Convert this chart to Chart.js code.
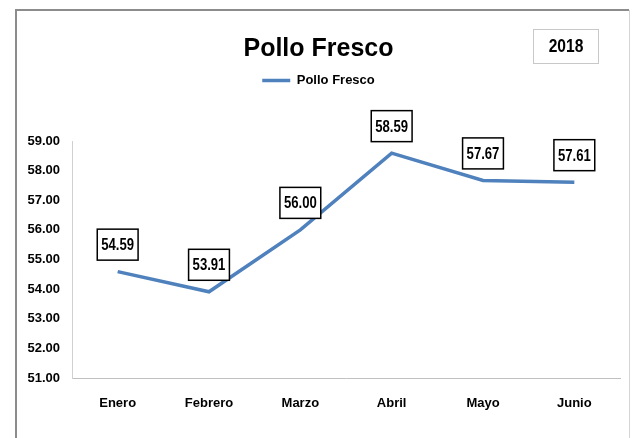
<!DOCTYPE html>
<html>
<head>
<meta charset="utf-8">
<title>Pollo Fresco</title>
<script src="https://cdn.jsdelivr.net/npm/chart.js@4.4.1/dist/chart.umd.min.js"></script>
<style>
    html, body { margin: 0; padding: 0; background: #fff; }
    canvas { display: block; }
</style>
</head>
<body>
<canvas id="polloChart" width="632" height="438"></canvas>
<script>
// Data
const months = ['Enero', 'Febrero', 'Marzo', 'Abril', 'Mayo', 'Junio'];
const polloFresco = [54.59, 53.91, 56.00, 58.59, 57.67, 57.61];
const seriesName = 'Pollo Fresco';
const yearLabel = '2018';
const yTicks = [51, 52, 53, 54, 55, 56, 57, 58, 59];

const FONT = "'Liberation Sans', Arial, sans-serif";
const LINE_COLOR = '#4f81bd';
const NARROW = 0.82; // squeeze for hand drawn text, the original font is a narrow one

// draw text horizontally squeezed around (x, y)
function narrowText(ctx, text, x, y) {
    ctx.save();
    ctx.translate(x, y);
    ctx.scale(NARROW, 1);
    ctx.fillText(text, 0, 0);
    ctx.restore();
}

// Outer frame of the chart object
const frame = {
    id: 'frame',
    beforeDraw(chart) {
        const ctx = chart.ctx;
        ctx.save();
        ctx.fillStyle = '#fff';
        ctx.fillRect(0, 0, chart.width, chart.height);
        ctx.strokeStyle = '#8c8c8c';
        ctx.lineWidth = 2;
        ctx.beginPath();
        ctx.moveTo(16, chart.height);
        ctx.lineTo(16, 10);
        ctx.lineTo(629, 10);
        ctx.stroke();
        ctx.strokeStyle = '#d4d4d4';
        ctx.lineWidth = 1;
        ctx.beginPath();
        ctx.moveTo(629.5, 10);
        ctx.lineTo(629.5, chart.height);
        ctx.stroke();
        ctx.restore();
    },
};

// Push the plot area down below the legend
const legendGap = {
    id: 'legendGap',
    beforeInit(chart) {
        const fit = chart.legend.fit;
        chart.legend.fit = function () {
            fit.bind(chart.legend)();
            this.height += 44;
        };
    },
};

// Boxed value labels above each point
const valueLabels = {
    id: 'valueLabels',
    afterDatasetsDraw(chart) {
        const ctx = chart.ctx;
        const meta = chart.getDatasetMeta(0);
        ctx.save();
        ctx.font = `bold 16px ${FONT}`;
        ctx.textAlign = 'center';
        ctx.textBaseline = 'middle';
        meta.data.forEach((pt, i) => {
            const text = polloFresco[i].toFixed(2);
            const w = ctx.measureText(text).width * NARROW + 8;
            const h = 31;
            const cx = pt.x;
            const cy = pt.y - 27;
            ctx.fillStyle = '#fff';
            ctx.fillRect(cx - w / 2, cy - h / 2, w, h);
            ctx.strokeStyle = '#000';
            ctx.lineWidth = 1.5;
            ctx.strokeRect(cx - w / 2, cy - h / 2, w, h);
            ctx.fillStyle = '#000';
            narrowText(ctx, text, cx, cy + 1);
        });
        ctx.restore();
    },
};

// Year box in the top right corner
const yearBox = {
    id: 'yearBox',
    afterDraw(chart) {
        const ctx = chart.ctx;
        ctx.save();
        ctx.strokeStyle = '#c8c8c8';
        ctx.lineWidth = 1;
        ctx.strokeRect(533.5, 29.5, 65, 34);
        ctx.font = `bold 19px ${FONT}`;
        ctx.fillStyle = '#000';
        ctx.textAlign = 'center';
        ctx.textBaseline = 'middle';
        narrowText(ctx, yearLabel, 566, 47);
        ctx.restore();
    },
};

const ctx = document.getElementById('polloChart').getContext('2d');

new Chart(ctx, {
    type: 'line',
    data: {
        labels: months,
        datasets: [
            {
                label: seriesName,
                data: polloFresco,
                borderColor: LINE_COLOR,
                backgroundColor: LINE_COLOR,
                borderWidth: 3.5,
                pointRadius: 0,
                pointStyle: 'line',
                tension: 0,
                fill: false,
            },
        ],
    },
    options: {
        responsive: false,
        animation: false,
        layout: {
            padding: { top: 12, left: 17, right: 12, bottom: 20 },
        },
        plugins: {
            title: {
                display: true,
                text: seriesName,
                color: '#000',
                font: { family: FONT, size: 25, weight: 'bold', lineHeight: 1.2 },
                padding: { top: 22, bottom: 0 },
            },
            legend: {
                position: 'top',
                labels: {
                    color: '#000',
                    font: { family: FONT, size: 13, weight: 'bold' },
                    usePointStyle: true,
                    pointStyle: 'line',
                    pointStyleWidth: 28,
                    padding: 10,
                },
            },
            tooltip: { enabled: false },
        },
        scales: {
            x: {
                offset: true,
                grid: { drawOnChartArea: false, drawTicks: false },
                border: { display: true, color: '#c0c0c0', width: 1 },
                ticks: {
                    color: '#000',
                    padding: 18,
                    font: { family: FONT, size: 13, weight: 'bold' },
                },
                afterFit: (scale) => {
                    scale.height = 40;
                },
            },
            y: {
                min: yTicks[0],
                max: yTicks[yTicks.length - 1],
                grid: { drawOnChartArea: false, drawTicks: false },
                border: { display: true, color: '#d0d0d0', width: 1 },
                ticks: {
                    stepSize: 1,
                    color: '#000',
                    padding: 12,
                    font: { family: FONT, size: 13, weight: 'bold' },
                    callback: (value) => value.toFixed(2),
                },
                afterFit: (scale) => {
                    scale.width = 55;
                },
            },
        },
    },
    plugins: [frame, legendGap, valueLabels, yearBox],
});
</script>
</body>
</html>
